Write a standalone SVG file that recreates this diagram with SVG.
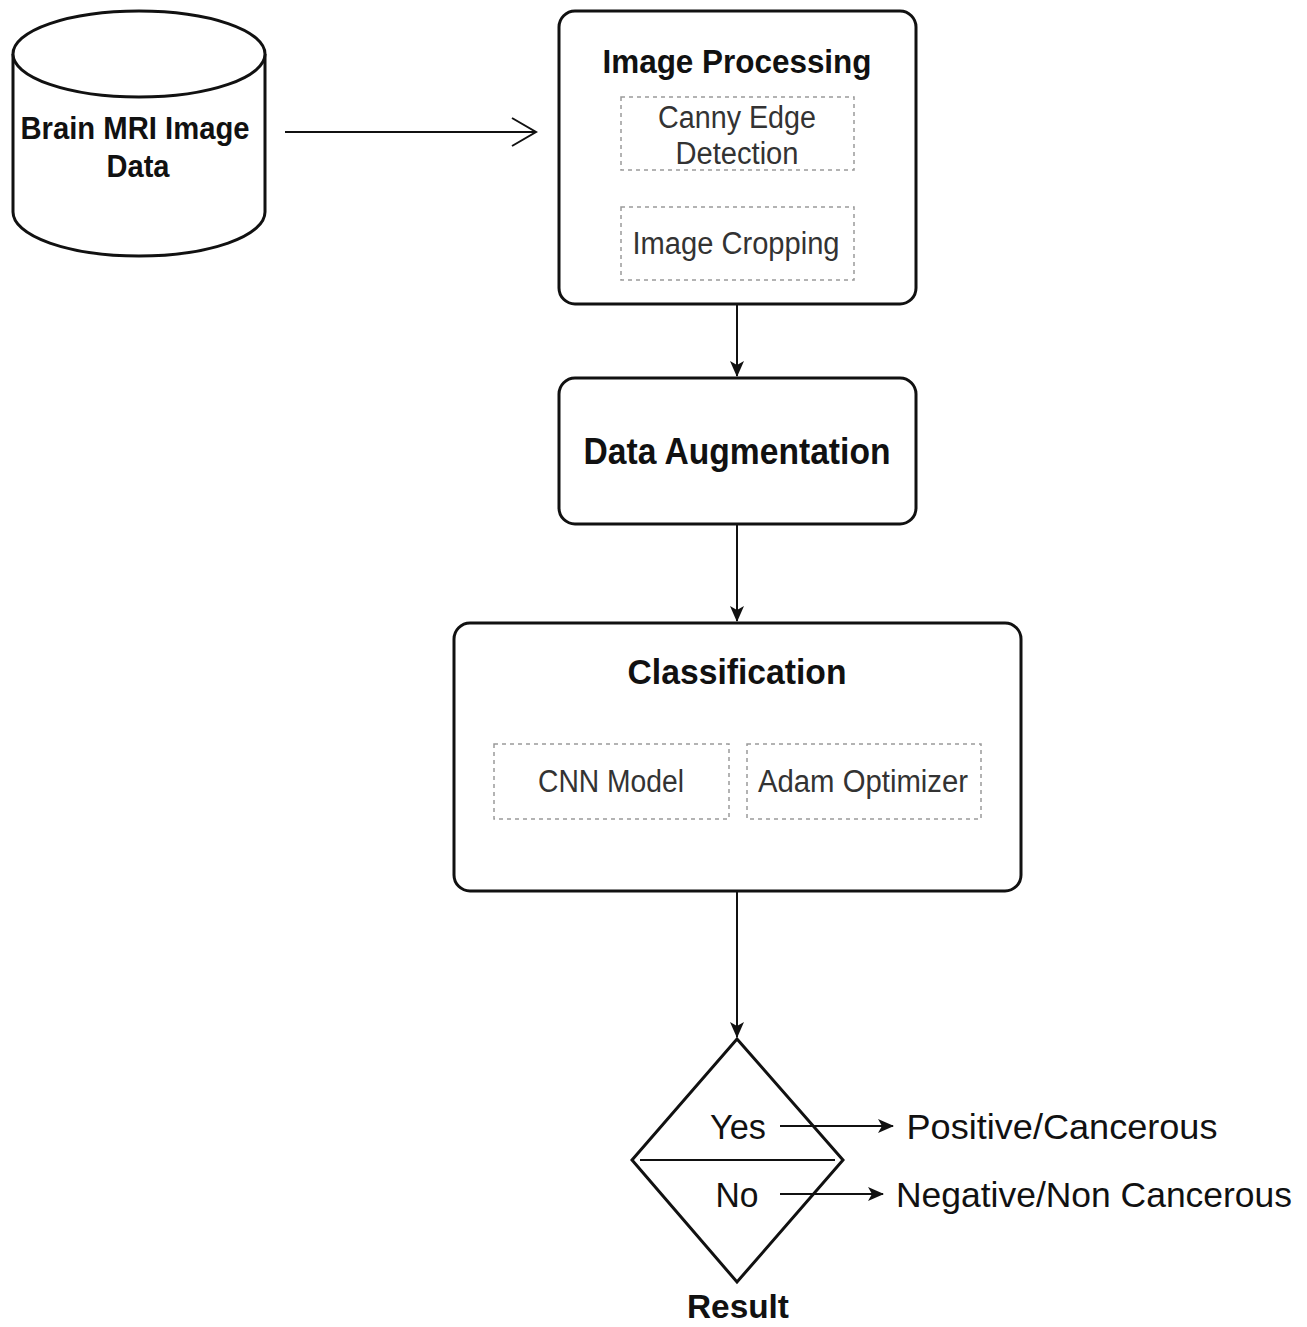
<svg xmlns="http://www.w3.org/2000/svg" width="1307" height="1327" viewBox="0 0 1307 1327">
<defs>
<style>
.box{fill:#fff;stroke:#111;stroke-width:3}
.dia{fill:none;stroke:#111;stroke-width:3}
.sub{fill:none;stroke:#9a9a9a;stroke-width:1.5;stroke-dasharray:4 4}
.t{font-family:"Liberation Sans",Arial,sans-serif;text-anchor:middle;fill:#111}
.b{font-weight:bold}
.s{fill:#333}
.c{stroke:#111;stroke-width:2;fill:none}
</style>
<marker id="ah2" markerWidth="16" markerHeight="16" refX="15" refY="8" orient="auto" markerUnits="userSpaceOnUse" viewBox="0 0 16 16">
<path d="M0,1 L16,8 L0,15 L4,8 Z" fill="#111"/>
</marker>
</defs>
<rect width="1307" height="1327" fill="#fff"/>
<g id="brain-mri-data">
<path class="box" d="M13,54 V212 A126,44 0 0 0 265,212 V54"/>
<ellipse class="box" cx="139" cy="54" rx="126" ry="43"/>
<text class="t b" x="135" y="139" font-size="31" textLength="229" lengthAdjust="spacingAndGlyphs">Brain MRI Image</text>
<text class="t b" x="138" y="177" font-size="31" textLength="63" lengthAdjust="spacingAndGlyphs">Data</text>
</g>
<g id="image-processing">
<rect class="box" x="559" y="11" width="357" height="293" rx="16"/>
<text class="t b" x="737" y="73" font-size="34" textLength="269" lengthAdjust="spacingAndGlyphs">Image Processing</text>
<rect class="sub" x="621" y="97" width="233" height="73"/>
<text class="t s" x="737" y="128" font-size="31" textLength="158" lengthAdjust="spacingAndGlyphs">Canny Edge</text>
<text class="t s" x="737" y="164" font-size="31" textLength="123" lengthAdjust="spacingAndGlyphs">Detection</text>
<rect class="sub" x="621" y="207" width="233" height="73"/>
<text class="t s" x="736" y="254" font-size="31" textLength="207" lengthAdjust="spacingAndGlyphs">Image Cropping</text>
</g>
<g id="data-augmentation">
<rect class="box" x="559" y="378" width="357" height="146" rx="16"/>
<text class="t b" x="737" y="464" font-size="36" textLength="307" lengthAdjust="spacingAndGlyphs">Data Augmentation</text>
</g>
<g id="classification">
<rect class="box" x="454" y="623" width="567" height="268" rx="16"/>
<text class="t b" x="737" y="684" font-size="35" textLength="219" lengthAdjust="spacingAndGlyphs">Classification</text>
<rect class="sub" x="494" y="744" width="235" height="75"/>
<text class="t s" x="611" y="792" font-size="31" textLength="146" lengthAdjust="spacingAndGlyphs">CNN Model</text>
<rect class="sub" x="747" y="744" width="234" height="75"/>
<text class="t s" x="863" y="792" font-size="31" textLength="210" lengthAdjust="spacingAndGlyphs">Adam Optimizer</text>
</g>
<g id="result">
<path class="dia" d="M737,1039 L843,1160 L737,1282 L632,1160 Z"/>
<path class="c" d="M640,1160 H835"/>
<text class="t" x="738" y="1139" font-size="35" textLength="56" lengthAdjust="spacingAndGlyphs">Yes</text>
<text class="t" x="737" y="1207" font-size="35" textLength="43" lengthAdjust="spacingAndGlyphs">No</text>
<text class="t b" x="738" y="1318" font-size="34" textLength="102" lengthAdjust="spacingAndGlyphs">Result</text>
</g>
<g id="positive">
<text class="t" x="1062" y="1139" font-size="35" textLength="311" lengthAdjust="spacingAndGlyphs">Positive/Cancerous</text>
</g>
<g id="negative">
<text class="t" x="1094" y="1207" font-size="35" textLength="396" lengthAdjust="spacingAndGlyphs">Negative/Non Cancerous</text>
</g>
<g id="connectors">
<path class="c" d="M285,132 H536"/>
<path class="c" d="M512,118 L536,132 L512,146"/>
<path class="c" d="M737,305 V376" marker-end="url(#ah2)"/>
<path class="c" d="M737,525 V621" marker-end="url(#ah2)"/>
<path class="c" d="M737,892 V1037" marker-end="url(#ah2)"/>
<path class="c" d="M780,1126 H893" marker-end="url(#ah2)"/>
<path class="c" d="M780,1194 H883" marker-end="url(#ah2)"/>
</g>
</svg>
